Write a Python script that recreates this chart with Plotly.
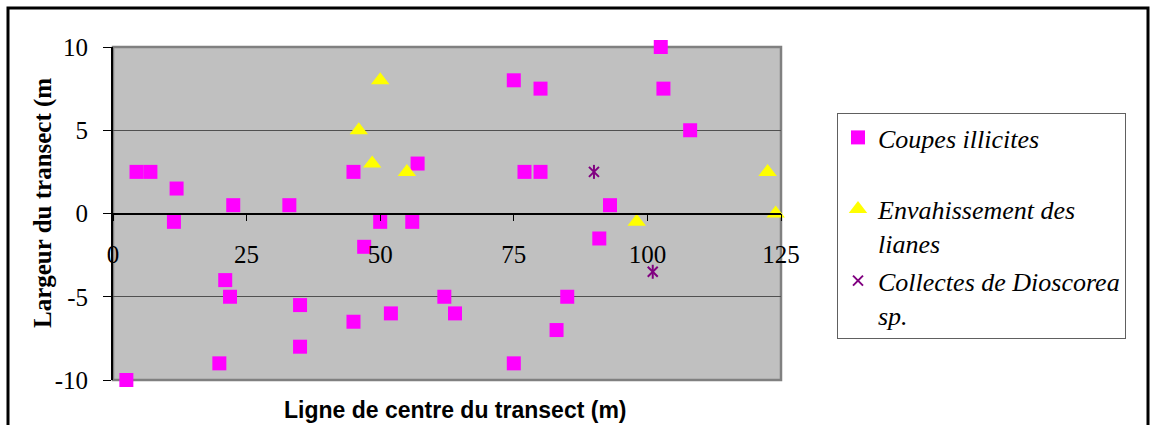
import plotly.graph_objects as go

# ---- data ----
coupes_x = [2.5, 4.4, 7, 11.4, 11.9, 19.9, 21, 21.9, 22.5, 33, 35, 35, 45, 45, 47, 50, 52, 56, 57,
            62, 64, 75, 75, 77, 80, 80, 83, 85, 91, 93, 102.5, 103, 108]
coupes_y = [-10, 2.5, 2.5, -0.5, 1.5, -9, -4, -5, 0.5, 0.5, -5.5, -8, 2.5, -6.5, -2, -0.5, -6, -0.5, 3,
            -5, -6, 8, -9, 2.5, 7.5, 2.5, -7, -5, -1.5, 0.5, 10, 7.5, 5]
lianes_x = [46, 48.5, 50, 55, 98, 122.5, 124]
lianes_y = [5, 3, 8, 2.5, -0.5, 2.5, 0]
dios_x = [90, 101]
dios_y = [2.5, -3.5]

x_ticks = [0, 25, 50, 75, 100, 125]
y_ticks = [-10, -5, 0, 5, 10]

names = ["Coupes illicites", "Envahissement des<br>lianes", "Collectes de Dioscorea<br>sp."]
x_title = "Ligne de centre du transect (m)"
y_title = "Largeur du transect (m"

W, H = 1152, 425
L, R, T, B = 113, 371, 47, 45
PW, PH = W - L - R, H - T - B


def px(xp):
    return (xp - L) / PW


def py(yp):
    return (H - B - yp) / PH


SERIF = "Liberation Serif"
SANS = "Liberation Sans"

fig = go.Figure()
fig.add_trace(go.Scatter(
    x=coupes_x, y=coupes_y, mode="markers", name="<i>" + names[0] + "</i><br> ",
    legendgroup="a", cliponaxis=False,
    marker=dict(symbol="square", size=14, color="#FF00FF", line=dict(width=0)),
))
fig.add_trace(go.Scatter(
    x=lianes_x, y=lianes_y, mode="markers", name="<i>" + names[1] + "</i>",
    legendgroup="b", cliponaxis=False,
    marker=dict(symbol="triangle-up", size=16, color="#FFFF00", line=dict(width=0)),
))
fig.add_trace(go.Scatter(
    x=dios_x, y=dios_y, mode="markers", name="<i>" + names[2] + "</i>",
    legendgroup="c", cliponaxis=False,
    marker=dict(symbol="x-thin-open", size=10, color="#800080",
                line=dict(width=2, color="#800080")),
))
fig.add_trace(go.Scatter(
    x=dios_x, y=dios_y, mode="markers", showlegend=False,
    legendgroup="c", cliponaxis=False,
    marker=dict(symbol="line-ns-open", size=10, color="#800080",
                line=dict(width=2, color="#800080")),
))

fig.update_layout(
    width=W, height=H,
    margin=dict(l=L, r=R, t=T, b=B, autoexpand=False),
    paper_bgcolor="white",
    plot_bgcolor="#C0C0C0",
    font=dict(family=SERIF, size=25, color="black"),
    xaxis=dict(
        range=[0, 125], tickvals=x_ticks, ticktext=[str(v) for v in x_ticks],
        showgrid=False, zeroline=False,
        showline=True, linecolor="black", linewidth=1.5,
        anchor="free", position=0.5,
        ticks="outside", ticklen=7, tickcolor="black", tickwidth=1,
        ticklabelstandoff=12,
        tickfont=dict(family=SERIF, size=25, color="black"),
    ),
    yaxis=dict(
        range=[-10, 10], tickvals=y_ticks, ticktext=[str(v) for v in y_ticks],
        showgrid=True, gridcolor="#505050", gridwidth=1,
        zeroline=False,
        showline=True, linecolor="black", linewidth=2,
        ticks="outside", ticklen=8, tickcolor="black", tickwidth=1,
        ticklabelstandoff=10,
        tickfont=dict(family=SERIF, size=25, color="black"),
    ),
    legend=dict(
        x=px(837), y=py(113), xanchor="left", yanchor="top",
        bgcolor="white", bordercolor="#606060", borderwidth=1,
        font=dict(family=SERIF, size=26, color="black"),
        valign="top", traceorder="grouped", tracegroupgap=1,
    ),
    showlegend=True,
)

# plot area border (grey)
fig.add_shape(type="rect", xref="paper", yref="paper", x0=0, y0=0, x1=1, y1=1,
              line=dict(color="#808080", width=2.5), layer="below")
# outer chart frame (black)
fig.add_shape(type="rect", xref="paper", yref="paper",
              x0=px(8), x1=px(1148), y0=py(440), y1=py(8),
              line=dict(color="black", width=3), layer="above")

fig.add_annotation(text="<b>" + x_title + "</b>", xref="paper", yref="paper",
                   x=px(455), y=py(410), xanchor="center", yanchor="middle",
                   showarrow=False, font=dict(family=SANS, size=23, color="black"))
fig.add_annotation(text="<b>" + y_title + "</b>", xref="paper", yref="paper",
                   x=px(43), y=py(203), xanchor="center", yanchor="middle",
                   textangle=-90, showarrow=False,
                   font=dict(family=SERIF, size=25, color="black"))

fig.write_html("out.html", config={"displayModeBar": False},
               post_script="document.body.style.margin='0px';")
